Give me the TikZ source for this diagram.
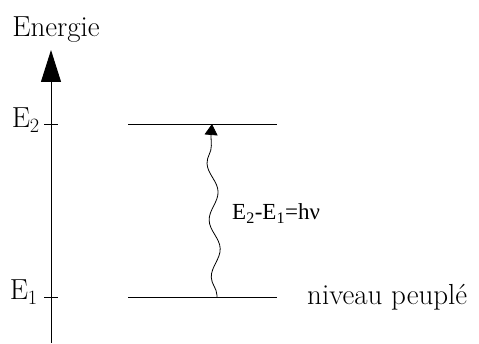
\documentclass[tikz,border=0pt]{standalone}
\usepackage{fontspec}
\newfontfamily\gapfont{Liberation Serif}
\usepackage{tikz}
\usetikzlibrary{arrows.meta,positioning,decorations.pathmorphing}
\colorlet{enink}{black}
\tikzset{
  enaxis/.style={-{Triangle[length=32pt,width=20pt]},line width=1pt,enink},
  entick/.style={line width=0.9pt,enink},
  enlevel/.style={line width=0.9pt,enink},
  enphoton/.style={line width=0.8pt,enink,
                   decorate,decoration={snake,segment length=57pt,amplitude=5pt,
                   pre length=2pt,post length=9pt}},
  enhead/.style={-{Triangle[length=11pt,width=13pt]},line width=0.8pt,enink},
  entext/.style={font=\fontsize{29}{34}\selectfont,inner sep=0pt,enink},
  engap/.style={entext,font=\gapfont\fontsize{23}{27}\selectfont}
}
\begin{document}
\begin{tikzpicture}[x=1pt,y=-1pt]
  \useasboundingbox (0,0) rectangle (479,344);
  % energy axis
  \coordinate (axbot) at (51,343);
  \coordinate (axtop) at (51,50);
  \draw[enaxis] (axbot) -- (axtop);
  \node[entext,anchor=base] (title) at (56,37) {Energie};

  % ticks and level labels
  \coordinate (t2l) at (44,124);
  \coordinate (t2r) at (58,124);
  \coordinate (t1l) at (44,297);
  \coordinate (t1r) at (58,297);
  \draw[entick] (t2l) -- (t2r);
  \draw[entick] (t1l) -- (t1r);
  \node[entext,anchor=base east] (lab2) at (40,128) {E\textsubscript{2}};
  \node[entext,anchor=base east] (lab1) at (38,300) {E\textsubscript{1}};

  % levels
  \coordinate (e2l) at (128,124);
  \coordinate (e2r) at (277,124);
  \coordinate (e1l) at (128,297);
  \coordinate (e1r) at (277,297);
  \draw[enlevel] (e2l) -- (e2r);
  \draw[enlevel] (e1l) -- (e1r);
  \node[entext,anchor=base west] (pop) at (307,305) {niveau peupl\'e};

  % absorbed photon
  \coordinate (phbot) at (217,297);
  \coordinate (phtop) at (212,124);
  \coordinate (phneck) at (211,136);
  \draw[enphoton] (phbot) -- (phneck);
  \draw[enhead] (phneck) -- (phtop);
  \node[engap,anchor=base west] (gap) at (232,220)
    {E\textsubscript{2}-E\textsubscript{1}=hν};
\end{tikzpicture}
\end{document}
